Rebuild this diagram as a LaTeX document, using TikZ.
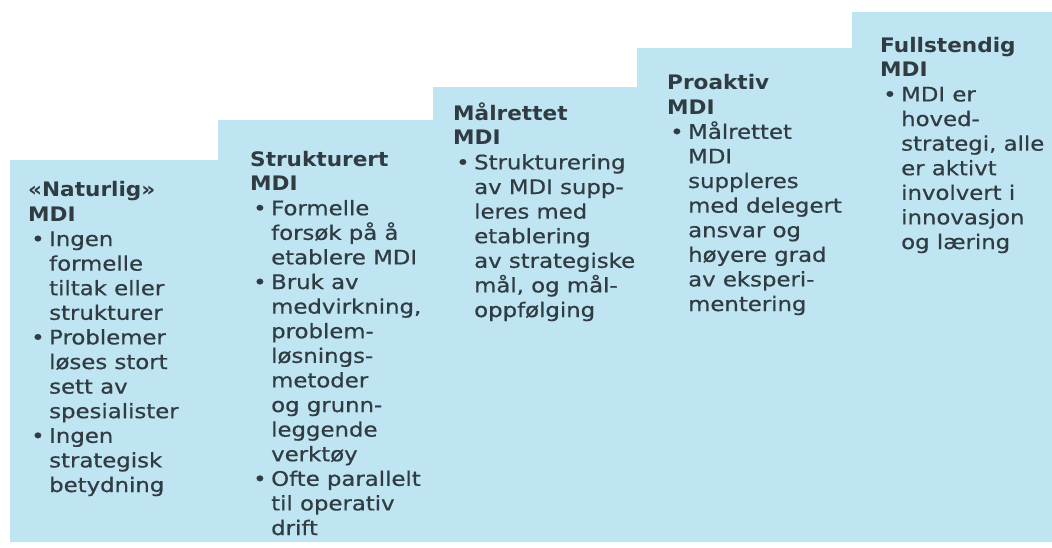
\documentclass[tikz,border=0pt]{standalone}
\usepackage{fontspec}
\setmainfont{DejaVu Sans}
\newfontfamily\bodyfont{DejaVu Sans}[FakeStretch=1.14, FakeBold=0.6]
\newfontfamily\headfont{DejaVu Sans}[FakeStretch=1.08]
\usepackage{tikz}

\definecolor{stepblue}{RGB}{191,228,242}
\definecolor{steptextcol}{RGB}{48,60,66}

\newcommand{\hd}[1]{{\headfont\bfseries #1}}
\newcommand{\bul}{\makebox[21pt][l]{\hspace{3pt}\textbullet}}
\newcommand{\ind}{\hspace*{21pt}}

\tikzset{
  steptext/.style={anchor=base west, inner sep=0pt, align=left,
    text=steptextcol, font=\bodyfont\fontsize{20}{24.6}\selectfont},
}

\begin{document}
\begin{tikzpicture}[x=1pt, y=-1pt]
\useasboundingbox[fill=white] (0,0) rectangle (1052,547);
% the staircase
\fill[stepblue] (10,542) -- (10,160) -- (218,160) -- (218,120) -- (433,120)
  -- (433,87) -- (637,87) -- (637,48) -- (852,48) -- (852,12)
  -- (1052,12) -- (1052,542) -- cycle;

% base west = baseline of the last line
\node[steptext] at (28,492) (naturlig) {\hd{«Naturlig»}\\ \hd{MDI}\\
  \bul Ingen\\ \ind formelle\\ \ind tiltak eller\\ \ind strukturer\\
  \bul Problemer\\ \ind løses stort\\ \ind sett av\\ \ind spesialister\\
  \bul Ingen\\ \ind strategisk\\ \ind betydning};

\node[steptext] at (250,535) (strukturert) {\hd{Strukturert}\\ \hd{MDI}\\
  \bul Formelle\\ \ind forsøk på å\\ \ind etablere MDI\\
  \bul Bruk av\\ \ind medvirkning,\\ \ind problem-\\ \ind løsnings-\\
  \ind metoder\\ \ind og grunn-\\ \ind leggende\\ \ind verktøy\\
  \bul Ofte parallelt\\ \ind til operativ\\ \ind drift};

\node[steptext] at (453,317) (maalrettet) {\hd{Målrettet}\\ \hd{MDI}\\
  \bul Strukturering\\ \ind av MDI supp-\\ \ind leres med\\ \ind etablering\\
  \ind av strategiske\\ \ind mål, og mål-\\ \ind oppfølging};

\node[steptext] at (667,311) (proaktiv) {\hd{Proaktiv}\\ \hd{MDI}\\
  \bul Målrettet\\ \ind MDI\\ \ind suppleres\\ \ind med delegert\\
  \ind ansvar og\\ \ind høyere grad\\ \ind av eksperi-\\ \ind mentering};

\node[steptext] at (880,249) (fullstendig) {\hd{Fullstendig}\\ \hd{MDI}\\
  \bul MDI er\\ \ind hoved-\\ \ind strategi, alle\\ \ind er aktivt\\
  \ind involvert i\\ \ind innovasjon\\ \ind og læring};
\end{tikzpicture}
\end{document}
